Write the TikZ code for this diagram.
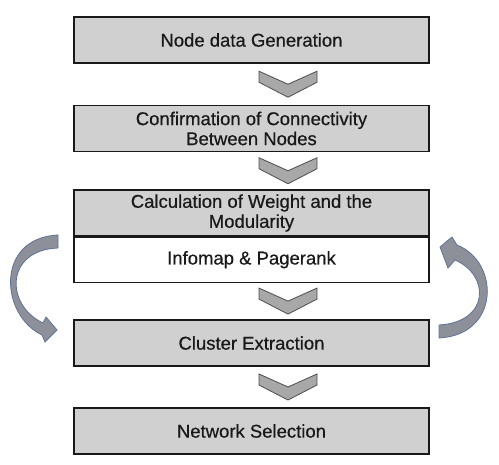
\documentclass[tikz,border=0pt]{standalone}
\usepackage{fontspec}
\setmainfont{Liberation Sans}
\newfontfamily\stepfont{Liberation Sans}[FakeBold=0.5]
\usetikzlibrary{positioning,calc}
\definecolor{boxgray}{HTML}{D0D0D0}
\definecolor{chevgray}{HTML}{A8A8A8}
\definecolor{arrowgray}{HTML}{8E9099}
\definecolor{arrowblue}{HTML}{5F7299}
% chevron between two steps
\newcommand{\chev}[2]{%
  \draw[chevron] ($(#1.south)!0.5!(#2.north)+(7.5,-13)$) -- ++(0,11) -- ++(29,15) -- ++(29,-15) -- ++(0,-11) -- ++(-29,13) -- cycle;}

\begin{document}
\begin{tikzpicture}[x=1pt,y=-1pt]
\tikzstyle{stepbox}=[draw=black!90,fill=boxgray,line width=1.2pt,minimum width=355pt,minimum height=46pt,align=center,text=black!90,font=\stepfont\fontsize{18.5}{20}\selectfont]
\tikzstyle{chevron}=[draw=black!70,fill=chevgray,line width=0.8pt]
\tikzstyle{turnarrow}=[draw=arrowblue,fill=arrowgray,line width=0.8pt]
\useasboundingbox (0,0) rectangle (499,465);
\node[stepbox] (gen) at (251.5,40) {Node data Generation};
\node[stepbox] (conn) at (251.5,128.5) {Confirmation of Connectivity\\Between Nodes};
\node[stepbox] (weight) at (251.5,213) {Calculation of Weight and the\\Modularity};
\node[stepbox,fill=white,minimum height=45pt,below=0pt of weight] (info) {Infomap \& Pagerank};
\node[stepbox] (clus) at (251.5,343) {Cluster Extraction};
\node[stepbox] (net) at (251.5,431) {Network Selection};
\chev{gen}{conn}
\chev{conn}{weight}
\chev{info}{clus}
\chev{clus}{net}
% left loop
\draw[turnarrow] (58,235) .. controls (-5,238) and (0,315) .. (42,335) -- (45,342) -- (57,330) -- (46,317) -- (43,323) .. controls (5,305) and (5,250) .. (58,248) -- cycle;
% right loop
\draw[turnarrow] (439,338) .. controls (500,335) and (500,262) .. (457,245) -- (452,237) -- (440,247) -- (448,268) -- (455,260) .. controls (490,275) and (490,322) .. (439,325) -- cycle;
\end{tikzpicture}
\end{document}
